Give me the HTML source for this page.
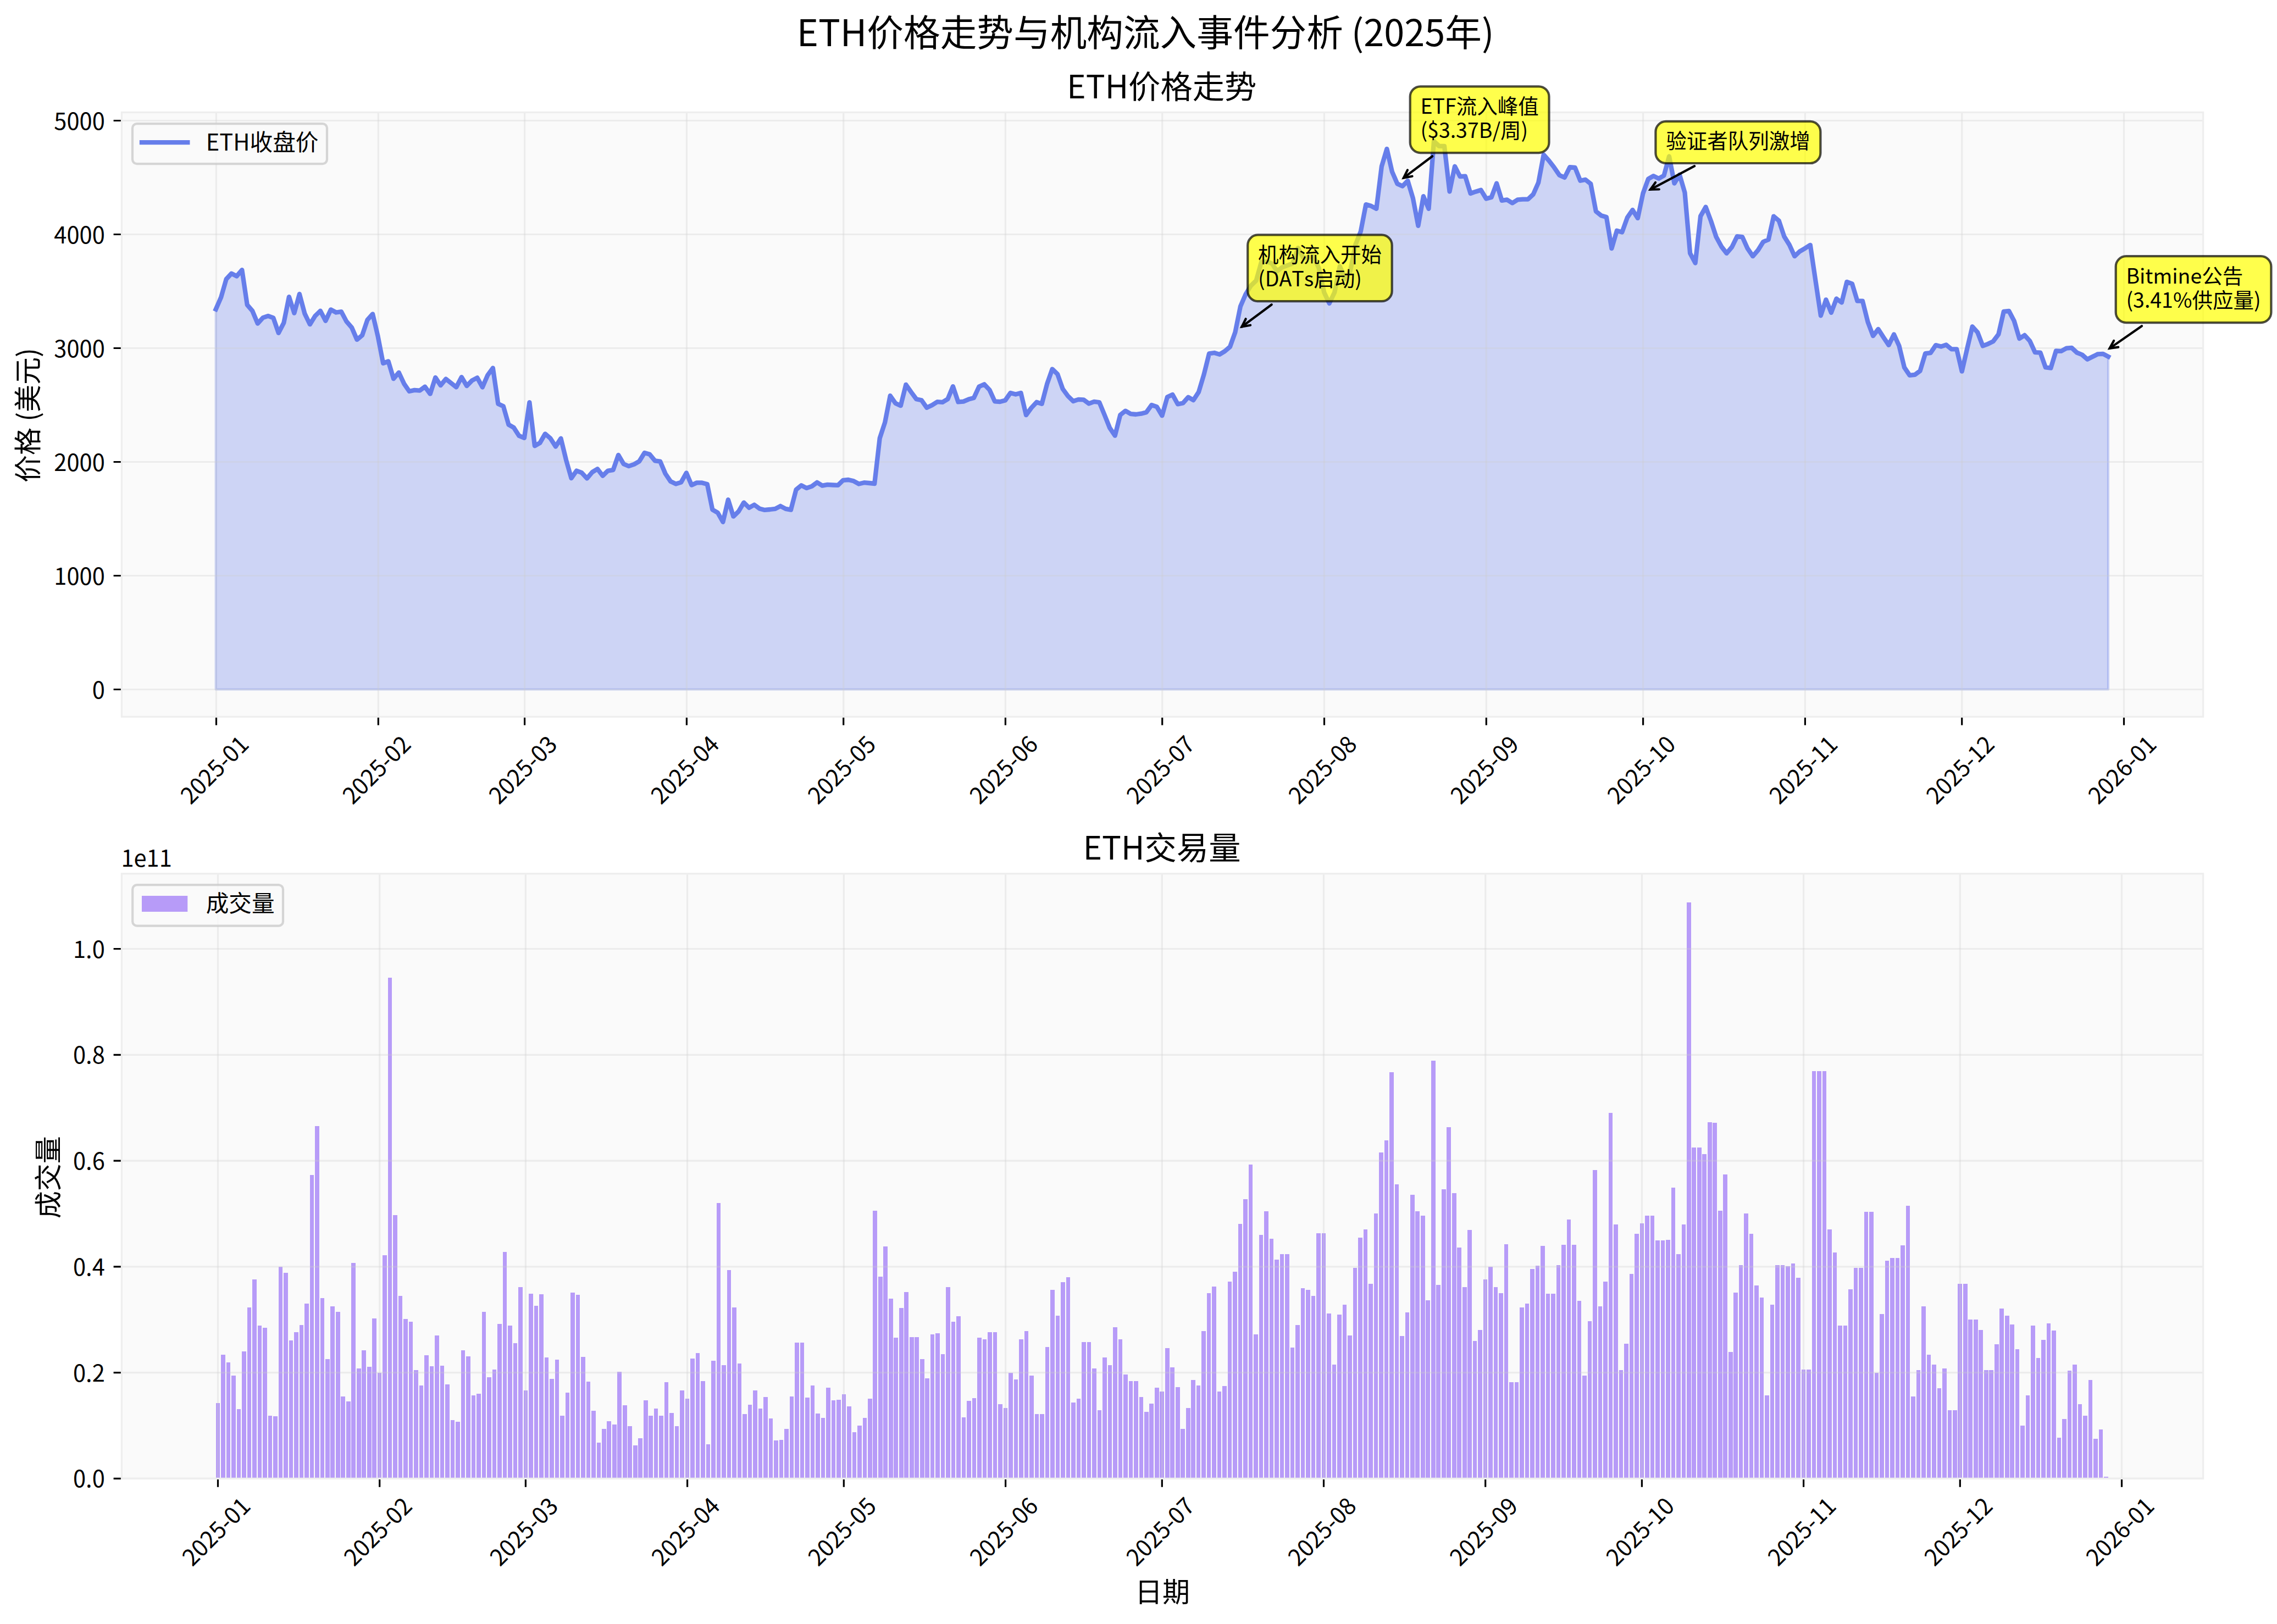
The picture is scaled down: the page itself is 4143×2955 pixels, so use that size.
<!DOCTYPE html>
<html lang="zh-CN"><head><meta charset="utf-8"><title>ETH价格走势与机构流入事件分析 (2025年)</title>
<style>html,body{margin:0;padding:0;background:#fff}body{width:4143px;height:2955px;overflow:hidden}svg{display:block}text{font-kerning:none}</style>
</head><body>
<svg width="4143" height="2955" viewBox="0 0 4143 2955" font-family='"Noto Sans CJK SC", "Liberation Sans", sans-serif' fill="#000">
<rect width="4143" height="2955" fill="#fff"/>
<rect x="221.4" y="204.4" width="3787.2" height="1099.8" fill="#fafafa"/>
<path d="M392.7,562.7 L402.2,540.8 L411.7,507.9 L421.2,497.7 L430.7,502.5 L440.3,491.1 L449.8,554.8 L459.3,565.8 L468.8,588.6 L478.3,578.2 L487.8,574.9 L497.3,578.4 L506.8,605.8 L516.4,587.3 L525.9,540.1 L535.4,569.7 L544.9,535.0 L554.4,570.6 L563.9,590.2 L573.4,574.9 L582.9,565.6 L592.4,583.8 L602.0,563.3 L611.5,568.5 L621.0,567.1 L630.5,585.1 L640.0,596.0 L649.5,618.0 L659.0,610.1 L668.5,582.0 L678.1,571.4 L687.6,612.0 L697.1,661.0 L706.6,657.5 L716.1,689.2 L725.6,677.8 L735.1,698.1 L744.6,712.0 L754.2,709.9 L763.7,710.7 L773.2,703.7 L782.7,716.7 L792.2,686.9 L801.7,701.2 L811.2,689.6 L820.7,697.0 L830.2,704.5 L839.8,686.1 L849.3,702.2 L858.8,692.3 L868.3,687.3 L877.8,704.5 L887.3,682.6 L896.8,669.7 L906.3,734.7 L915.9,739.3 L925.4,772.6 L934.9,778.2 L944.4,792.9 L953.9,796.8 L963.4,732.2 L972.9,811.3 L982.4,805.9 L991.9,789.4 L1001.5,797.7 L1011.0,812.6 L1020.5,797.7 L1030.0,836.8 L1039.5,870.1 L1049.0,856.6 L1058.5,860.2 L1068.0,870.5 L1077.6,859.1 L1087.1,853.3 L1096.6,865.8 L1106.1,856.6 L1115.6,855.2 L1125.1,827.9 L1134.6,844.2 L1144.1,848.2 L1153.7,844.8 L1163.2,839.3 L1172.7,823.9 L1182.2,826.8 L1191.7,838.4 L1201.2,839.7 L1210.7,862.0 L1220.2,876.1 L1229.7,880.5 L1239.3,877.6 L1248.8,860.4 L1258.3,882.7 L1267.8,878.4 L1277.3,878.4 L1286.8,880.9 L1296.3,927.4 L1305.8,932.8 L1315.4,949.8 L1324.9,909.2 L1334.4,939.7 L1343.9,930.5 L1353.4,914.4 L1362.9,923.9 L1372.4,918.5 L1381.9,925.4 L1391.4,927.9 L1401.0,927.0 L1410.5,925.8 L1420.0,920.8 L1429.5,925.8 L1439.0,927.6 L1448.5,891.0 L1458.0,883.1 L1467.5,888.1 L1477.1,884.8 L1486.6,877.8 L1496.1,883.6 L1505.6,881.9 L1515.1,882.5 L1524.6,882.9 L1534.1,873.8 L1543.6,873.0 L1553.2,875.3 L1562.7,880.5 L1572.2,878.2 L1581.7,879.0 L1591.2,880.0 L1600.7,797.4 L1610.2,768.5 L1619.7,720.0 L1629.2,733.7 L1638.8,738.2 L1648.3,699.9 L1657.8,713.4 L1667.3,726.2 L1676.8,728.3 L1686.3,741.8 L1695.8,737.2 L1705.3,731.2 L1714.9,731.8 L1724.4,726.2 L1733.9,703.1 L1743.4,731.4 L1752.9,730.6 L1762.4,726.6 L1771.9,724.0 L1781.4,703.5 L1790.9,699.3 L1800.5,709.5 L1810.0,730.4 L1819.5,731.0 L1829.0,728.5 L1838.5,714.9 L1848.0,717.5 L1857.5,714.9 L1867.0,755.2 L1876.6,742.0 L1886.1,731.8 L1895.6,734.9 L1905.1,698.7 L1914.6,671.6 L1924.1,680.7 L1933.6,707.6 L1943.1,720.6 L1952.7,730.0 L1962.2,726.9 L1971.7,727.3 L1981.2,734.3 L1990.7,730.8 L2000.2,732.0 L2009.7,755.0 L2019.2,778.6 L2028.7,792.7 L2038.3,755.0 L2047.8,747.6 L2057.3,753.1 L2066.8,754.0 L2076.3,752.7 L2085.8,750.2 L2095.3,737.0 L2104.8,740.1 L2114.4,756.3 L2123.9,722.5 L2133.4,718.0 L2142.9,735.3 L2152.4,733.5 L2161.9,722.7 L2171.4,728.1 L2180.9,713.6 L2190.4,681.9 L2200.0,643.4 L2209.5,642.0 L2219.0,644.9 L2228.5,639.1 L2238.0,631.0 L2247.5,604.3 L2257.0,557.3 L2266.5,535.4 L2276.1,519.7 L2285.6,510.5 L2295.1,476.6 L2304.6,475.8 L2314.1,479.3 L2323.6,493.4 L2333.1,486.3 L2342.6,482.8 L2352.2,479.3 L2361.7,451.1 L2371.2,468.7 L2380.7,468.7 L2390.2,466.9 L2399.7,488.0 L2409.2,531.9 L2418.7,552.1 L2428.2,531.9 L2437.8,484.5 L2447.3,507.2 L2456.8,493.4 L2466.3,445.3 L2475.8,421.3 L2485.3,372.1 L2494.8,374.8 L2504.3,379.9 L2513.9,302.7 L2523.4,271.0 L2532.9,312.4 L2542.4,334.4 L2551.9,338.7 L2561.4,329.0 L2570.9,360.7 L2580.4,410.8 L2589.9,357.2 L2599.5,379.9 L2609.0,257.0 L2618.5,265.9 L2628.0,265.9 L2637.5,348.5 L2647.0,302.7 L2656.5,321.1 L2666.0,320.7 L2675.6,352.0 L2685.1,348.7 L2694.6,345.8 L2704.1,361.5 L2713.6,359.0 L2723.1,333.6 L2732.6,364.8 L2742.1,363.4 L2751.7,369.4 L2761.2,363.4 L2770.7,362.7 L2780.2,362.5 L2789.7,353.6 L2799.2,332.1 L2808.7,281.6 L2818.2,292.2 L2827.7,304.6 L2837.3,318.7 L2846.8,323.0 L2856.3,304.2 L2865.8,305.0 L2875.3,328.8 L2884.8,326.9 L2894.3,334.4 L2903.8,384.5 L2913.4,392.3 L2922.9,395.0 L2932.4,452.2 L2941.9,419.7 L2951.4,422.4 L2960.9,395.9 L2970.4,382.0 L2979.9,396.9 L2989.4,352.0 L2999.0,325.7 L3008.5,320.1 L3018.0,324.9 L3027.5,319.5 L3037.0,284.5 L3046.5,333.6 L3056.0,317.8 L3065.5,350.3 L3075.1,460.9 L3084.6,478.5 L3094.1,393.4 L3103.6,376.6 L3113.1,402.1 L3122.6,431.1 L3132.1,448.6 L3141.6,460.9 L3151.2,449.5 L3160.7,430.2 L3170.2,431.1 L3179.7,452.2 L3189.2,466.2 L3198.7,455.3 L3208.2,440.0 L3217.7,436.0 L3227.2,393.6 L3236.8,401.7 L3246.3,430.2 L3255.8,445.5 L3265.3,466.2 L3274.8,457.3 L3284.3,451.8 L3293.8,445.8 L3303.3,510.1 L3312.9,574.3 L3322.4,545.3 L3331.9,568.9 L3341.4,543.5 L3350.9,550.5 L3360.4,512.8 L3369.9,516.3 L3379.4,547.6 L3388.9,547.6 L3398.5,585.7 L3408.0,611.1 L3417.5,598.9 L3427.0,613.8 L3436.5,627.9 L3446.0,608.5 L3455.5,629.4 L3465.0,668.7 L3474.6,682.8 L3484.1,681.9 L3493.6,674.9 L3503.1,643.2 L3512.6,642.2 L3522.1,628.1 L3531.6,630.6 L3541.1,627.5 L3550.7,635.4 L3560.2,635.4 L3569.7,675.7 L3579.2,634.5 L3588.7,594.2 L3598.2,604.7 L3607.7,629.4 L3617.2,625.8 L3626.7,621.1 L3636.3,608.2 L3645.8,566.8 L3655.3,566.0 L3664.8,584.2 L3674.3,616.1 L3683.8,609.9 L3693.3,620.5 L3702.8,641.2 L3712.4,641.6 L3721.9,668.5 L3731.4,669.7 L3740.9,638.5 L3750.4,638.9 L3759.9,633.7 L3769.4,632.9 L3778.9,641.6 L3788.4,645.5 L3798.0,653.8 L3807.5,649.0 L3817.0,644.3 L3826.5,643.9 L3836.0,649.0 L3836.0,1254.5 L392.7,1254.5 Z" fill="#667eea" fill-opacity="0.3" stroke="#667eea" stroke-opacity="0.3" stroke-width="4.2" stroke-linejoin="round"/>
<path d="M393.5,204.4 V1304.2 M688.3,204.4 V1304.2 M954.6,204.4 V1304.2 M1249.4,204.4 V1304.2 M1534.7,204.4 V1304.2 M1829.4,204.4 V1304.2 M2114.7,204.4 V1304.2 M2409.5,204.4 V1304.2 M2704.3,204.4 V1304.2 M2989.6,204.4 V1304.2 M3284.4,204.4 V1304.2 M3569.7,204.4 V1304.2 M3864.5,204.4 V1304.2" fill="none" stroke="#cccccc" stroke-opacity="0.3" stroke-width="3.2"/>
<path d="M221.4,1254.5 H4008.6 M221.4,1047.5 H4008.6 M221.4,840.5 H4008.6 M221.4,633.5 H4008.6 M221.4,426.5 H4008.6 M221.4,219.5 H4008.6" fill="none" stroke="#cccccc" stroke-opacity="0.3" stroke-width="3.2"/>
<path d="M392.7,562.7 L402.2,540.8 L411.7,507.9 L421.2,497.7 L430.7,502.5 L440.3,491.1 L449.8,554.8 L459.3,565.8 L468.8,588.6 L478.3,578.2 L487.8,574.9 L497.3,578.4 L506.8,605.8 L516.4,587.3 L525.9,540.1 L535.4,569.7 L544.9,535.0 L554.4,570.6 L563.9,590.2 L573.4,574.9 L582.9,565.6 L592.4,583.8 L602.0,563.3 L611.5,568.5 L621.0,567.1 L630.5,585.1 L640.0,596.0 L649.5,618.0 L659.0,610.1 L668.5,582.0 L678.1,571.4 L687.6,612.0 L697.1,661.0 L706.6,657.5 L716.1,689.2 L725.6,677.8 L735.1,698.1 L744.6,712.0 L754.2,709.9 L763.7,710.7 L773.2,703.7 L782.7,716.7 L792.2,686.9 L801.7,701.2 L811.2,689.6 L820.7,697.0 L830.2,704.5 L839.8,686.1 L849.3,702.2 L858.8,692.3 L868.3,687.3 L877.8,704.5 L887.3,682.6 L896.8,669.7 L906.3,734.7 L915.9,739.3 L925.4,772.6 L934.9,778.2 L944.4,792.9 L953.9,796.8 L963.4,732.2 L972.9,811.3 L982.4,805.9 L991.9,789.4 L1001.5,797.7 L1011.0,812.6 L1020.5,797.7 L1030.0,836.8 L1039.5,870.1 L1049.0,856.6 L1058.5,860.2 L1068.0,870.5 L1077.6,859.1 L1087.1,853.3 L1096.6,865.8 L1106.1,856.6 L1115.6,855.2 L1125.1,827.9 L1134.6,844.2 L1144.1,848.2 L1153.7,844.8 L1163.2,839.3 L1172.7,823.9 L1182.2,826.8 L1191.7,838.4 L1201.2,839.7 L1210.7,862.0 L1220.2,876.1 L1229.7,880.5 L1239.3,877.6 L1248.8,860.4 L1258.3,882.7 L1267.8,878.4 L1277.3,878.4 L1286.8,880.9 L1296.3,927.4 L1305.8,932.8 L1315.4,949.8 L1324.9,909.2 L1334.4,939.7 L1343.9,930.5 L1353.4,914.4 L1362.9,923.9 L1372.4,918.5 L1381.9,925.4 L1391.4,927.9 L1401.0,927.0 L1410.5,925.8 L1420.0,920.8 L1429.5,925.8 L1439.0,927.6 L1448.5,891.0 L1458.0,883.1 L1467.5,888.1 L1477.1,884.8 L1486.6,877.8 L1496.1,883.6 L1505.6,881.9 L1515.1,882.5 L1524.6,882.9 L1534.1,873.8 L1543.6,873.0 L1553.2,875.3 L1562.7,880.5 L1572.2,878.2 L1581.7,879.0 L1591.2,880.0 L1600.7,797.4 L1610.2,768.5 L1619.7,720.0 L1629.2,733.7 L1638.8,738.2 L1648.3,699.9 L1657.8,713.4 L1667.3,726.2 L1676.8,728.3 L1686.3,741.8 L1695.8,737.2 L1705.3,731.2 L1714.9,731.8 L1724.4,726.2 L1733.9,703.1 L1743.4,731.4 L1752.9,730.6 L1762.4,726.6 L1771.9,724.0 L1781.4,703.5 L1790.9,699.3 L1800.5,709.5 L1810.0,730.4 L1819.5,731.0 L1829.0,728.5 L1838.5,714.9 L1848.0,717.5 L1857.5,714.9 L1867.0,755.2 L1876.6,742.0 L1886.1,731.8 L1895.6,734.9 L1905.1,698.7 L1914.6,671.6 L1924.1,680.7 L1933.6,707.6 L1943.1,720.6 L1952.7,730.0 L1962.2,726.9 L1971.7,727.3 L1981.2,734.3 L1990.7,730.8 L2000.2,732.0 L2009.7,755.0 L2019.2,778.6 L2028.7,792.7 L2038.3,755.0 L2047.8,747.6 L2057.3,753.1 L2066.8,754.0 L2076.3,752.7 L2085.8,750.2 L2095.3,737.0 L2104.8,740.1 L2114.4,756.3 L2123.9,722.5 L2133.4,718.0 L2142.9,735.3 L2152.4,733.5 L2161.9,722.7 L2171.4,728.1 L2180.9,713.6 L2190.4,681.9 L2200.0,643.4 L2209.5,642.0 L2219.0,644.9 L2228.5,639.1 L2238.0,631.0 L2247.5,604.3 L2257.0,557.3 L2266.5,535.4 L2276.1,519.7 L2285.6,510.5 L2295.1,476.6 L2304.6,475.8 L2314.1,479.3 L2323.6,493.4 L2333.1,486.3 L2342.6,482.8 L2352.2,479.3 L2361.7,451.1 L2371.2,468.7 L2380.7,468.7 L2390.2,466.9 L2399.7,488.0 L2409.2,531.9 L2418.7,552.1 L2428.2,531.9 L2437.8,484.5 L2447.3,507.2 L2456.8,493.4 L2466.3,445.3 L2475.8,421.3 L2485.3,372.1 L2494.8,374.8 L2504.3,379.9 L2513.9,302.7 L2523.4,271.0 L2532.9,312.4 L2542.4,334.4 L2551.9,338.7 L2561.4,329.0 L2570.9,360.7 L2580.4,410.8 L2589.9,357.2 L2599.5,379.9 L2609.0,257.0 L2618.5,265.9 L2628.0,265.9 L2637.5,348.5 L2647.0,302.7 L2656.5,321.1 L2666.0,320.7 L2675.6,352.0 L2685.1,348.7 L2694.6,345.8 L2704.1,361.5 L2713.6,359.0 L2723.1,333.6 L2732.6,364.8 L2742.1,363.4 L2751.7,369.4 L2761.2,363.4 L2770.7,362.7 L2780.2,362.5 L2789.7,353.6 L2799.2,332.1 L2808.7,281.6 L2818.2,292.2 L2827.7,304.6 L2837.3,318.7 L2846.8,323.0 L2856.3,304.2 L2865.8,305.0 L2875.3,328.8 L2884.8,326.9 L2894.3,334.4 L2903.8,384.5 L2913.4,392.3 L2922.9,395.0 L2932.4,452.2 L2941.9,419.7 L2951.4,422.4 L2960.9,395.9 L2970.4,382.0 L2979.9,396.9 L2989.4,352.0 L2999.0,325.7 L3008.5,320.1 L3018.0,324.9 L3027.5,319.5 L3037.0,284.5 L3046.5,333.6 L3056.0,317.8 L3065.5,350.3 L3075.1,460.9 L3084.6,478.5 L3094.1,393.4 L3103.6,376.6 L3113.1,402.1 L3122.6,431.1 L3132.1,448.6 L3141.6,460.9 L3151.2,449.5 L3160.7,430.2 L3170.2,431.1 L3179.7,452.2 L3189.2,466.2 L3198.7,455.3 L3208.2,440.0 L3217.7,436.0 L3227.2,393.6 L3236.8,401.7 L3246.3,430.2 L3255.8,445.5 L3265.3,466.2 L3274.8,457.3 L3284.3,451.8 L3293.8,445.8 L3303.3,510.1 L3312.9,574.3 L3322.4,545.3 L3331.9,568.9 L3341.4,543.5 L3350.9,550.5 L3360.4,512.8 L3369.9,516.3 L3379.4,547.6 L3388.9,547.6 L3398.5,585.7 L3408.0,611.1 L3417.5,598.9 L3427.0,613.8 L3436.5,627.9 L3446.0,608.5 L3455.5,629.4 L3465.0,668.7 L3474.6,682.8 L3484.1,681.9 L3493.6,674.9 L3503.1,643.2 L3512.6,642.2 L3522.1,628.1 L3531.6,630.6 L3541.1,627.5 L3550.7,635.4 L3560.2,635.4 L3569.7,675.7 L3579.2,634.5 L3588.7,594.2 L3598.2,604.7 L3607.7,629.4 L3617.2,625.8 L3626.7,621.1 L3636.3,608.2 L3645.8,566.8 L3655.3,566.0 L3664.8,584.2 L3674.3,616.1 L3683.8,609.9 L3693.3,620.5 L3702.8,641.2 L3712.4,641.6 L3721.9,668.5 L3731.4,669.7 L3740.9,638.5 L3750.4,638.9 L3759.9,633.7 L3769.4,632.9 L3778.9,641.6 L3788.4,645.5 L3798.0,653.8 L3807.5,649.0 L3817.0,644.3 L3826.5,643.9 L3836.0,649.0" fill="none" stroke="#667eea" stroke-width="8.3" stroke-linejoin="round" stroke-linecap="square"/>
<path d="M393.5,1304.2 v15.4 M688.3,1304.2 v15.4 M954.6,1304.2 v15.4 M1249.4,1304.2 v15.4 M1534.7,1304.2 v15.4 M1829.4,1304.2 v15.4 M2114.7,1304.2 v15.4 M2409.5,1304.2 v15.4 M2704.3,1304.2 v15.4 M2989.6,1304.2 v15.4 M3284.4,1304.2 v15.4 M3569.7,1304.2 v15.4 M3864.5,1304.2 v15.4 M221.4,1254.5 h-14.8 M221.4,1047.5 h-14.8 M221.4,840.5 h-14.8 M221.4,633.5 h-14.8 M221.4,426.5 h-14.8 M221.4,219.5 h-14.8" fill="none" stroke="#000" stroke-width="3.2"/>
<rect x="221.4" y="204.4" width="3787.2" height="1099.8" fill="none" stroke="#eeeeee" stroke-width="3.2"/>
<g font-size="41.67">
<text x="190.8" y="1270.5" text-anchor="end">0</text>
<text x="190.8" y="1063.5" text-anchor="end">1000</text>
<text x="190.8" y="856.5" text-anchor="end">2000</text>
<text x="190.8" y="649.5" text-anchor="end">3000</text>
<text x="190.8" y="442.5" text-anchor="end">4000</text>
<text x="190.8" y="235.5" text-anchor="end">5000</text>
<text transform="translate(390.6,1401.0) rotate(-45)" text-anchor="middle" y="14.8">2025-01</text>
<text transform="translate(685.4,1401.0) rotate(-45)" text-anchor="middle" y="14.8">2025-02</text>
<text transform="translate(951.7,1401.0) rotate(-45)" text-anchor="middle" y="14.8">2025-03</text>
<text transform="translate(1246.5,1401.0) rotate(-45)" text-anchor="middle" y="14.8">2025-04</text>
<text transform="translate(1531.8,1401.0) rotate(-45)" text-anchor="middle" y="14.8">2025-05</text>
<text transform="translate(1826.5,1401.0) rotate(-45)" text-anchor="middle" y="14.8">2025-06</text>
<text transform="translate(2111.8,1401.0) rotate(-45)" text-anchor="middle" y="14.8">2025-07</text>
<text transform="translate(2406.6,1401.0) rotate(-45)" text-anchor="middle" y="14.8">2025-08</text>
<text transform="translate(2701.4,1401.0) rotate(-45)" text-anchor="middle" y="14.8">2025-09</text>
<text transform="translate(2986.7,1401.0) rotate(-45)" text-anchor="middle" y="14.8">2025-10</text>
<text transform="translate(3281.5,1401.0) rotate(-45)" text-anchor="middle" y="14.8">2025-11</text>
<text transform="translate(3566.8,1401.0) rotate(-45)" text-anchor="middle" y="14.8">2025-12</text>
<text transform="translate(3861.6,1401.0) rotate(-45)" text-anchor="middle" y="14.8">2026-01</text>
</g>
<rect x="221.4" y="1589.7" width="3787.2" height="1100.7" fill="#fafafa"/>
<path d="M393,2690.4V2553H400V2690.4zM402,2690.4V2465H410V2690.4zM412,2690.4V2479H419V2690.4zM421,2690.4V2503H429V2690.4zM431,2690.4V2564H438V2690.4zM440,2690.4V2459H448V2690.4zM450,2690.4V2379H457V2690.4zM459,2690.4V2328H467V2690.4zM469,2690.4V2412H476V2690.4zM478,2690.4V2416H486V2690.4zM488,2690.4V2576H495V2690.4zM497,2690.4V2577H505V2690.4zM507,2690.4V2305H514V2690.4zM516,2690.4V2316H524V2690.4zM526,2690.4V2439H533V2690.4zM535,2690.4V2424H543V2690.4zM545,2690.4V2411H552V2690.4zM554,2690.4V2372H562V2690.4zM564,2690.4V2138H571V2690.4zM573,2690.4V2049H581V2690.4zM583,2690.4V2362H590V2690.4zM592,2690.4V2473H600V2690.4zM601,2690.4V2377H609V2690.4zM611,2690.4V2387H619V2690.4zM620,2690.4V2541H628V2690.4zM630,2690.4V2550H638V2690.4zM639,2690.4V2298H647V2690.4zM649,2690.4V2490H657V2690.4zM658,2690.4V2457H666V2690.4zM668,2690.4V2487H676V2690.4zM677,2690.4V2399H685V2690.4zM687,2690.4V2498H694V2690.4zM696,2690.4V2284H704V2690.4zM706,2690.4V1779H713V2690.4zM715,2690.4V2211H723V2690.4zM725,2690.4V2358H732V2690.4zM734,2690.4V2400H742V2690.4zM744,2690.4V2405H751V2690.4zM753,2690.4V2493H761V2690.4zM763,2690.4V2521H770V2690.4zM772,2690.4V2466H780V2690.4zM782,2690.4V2486H789V2690.4zM791,2690.4V2430H799V2690.4zM801,2690.4V2485H808V2690.4zM810,2690.4V2519H818V2690.4zM820,2690.4V2584H827V2690.4zM829,2690.4V2587H837V2690.4zM839,2690.4V2457H846V2690.4zM848,2690.4V2468H856V2690.4zM858,2690.4V2539H865V2690.4zM867,2690.4V2536H875V2690.4zM877,2690.4V2387H884V2690.4zM886,2690.4V2506H894V2690.4zM896,2690.4V2492H903V2690.4zM905,2690.4V2409H913V2690.4zM915,2690.4V2278H922V2690.4zM924,2690.4V2412H932V2690.4zM934,2690.4V2444H941V2690.4zM943,2690.4V2342H951V2690.4zM953,2690.4V2530H960V2690.4zM962,2690.4V2354H970V2690.4zM972,2690.4V2376H979V2690.4zM981,2690.4V2355H989V2690.4zM991,2690.4V2470H998V2690.4zM1000,2690.4V2509H1008V2690.4zM1010,2690.4V2474H1017V2690.4zM1019,2690.4V2576H1027V2690.4zM1029,2690.4V2534H1036V2690.4zM1038,2690.4V2352H1046V2690.4zM1048,2690.4V2356H1055V2690.4zM1057,2690.4V2469H1065V2690.4zM1067,2690.4V2514H1074V2690.4zM1076,2690.4V2567H1084V2690.4zM1086,2690.4V2625H1093V2690.4zM1095,2690.4V2600H1103V2690.4zM1104,2690.4V2586H1112V2690.4zM1114,2690.4V2592H1122V2690.4zM1123,2690.4V2496H1131V2690.4zM1133,2690.4V2557H1141V2690.4zM1142,2690.4V2595H1150V2690.4zM1152,2690.4V2630H1160V2690.4zM1161,2690.4V2617H1169V2690.4zM1171,2690.4V2548H1179V2690.4zM1180,2690.4V2576H1188V2690.4zM1190,2690.4V2563H1197V2690.4zM1199,2690.4V2576H1207V2690.4zM1209,2690.4V2515H1216V2690.4zM1218,2690.4V2571H1226V2690.4zM1228,2690.4V2595H1235V2690.4zM1237,2690.4V2530H1245V2690.4zM1247,2690.4V2545H1254V2690.4zM1256,2690.4V2472H1264V2690.4zM1266,2690.4V2462H1273V2690.4zM1275,2690.4V2513H1283V2690.4zM1285,2690.4V2628H1292V2690.4zM1294,2690.4V2476H1302V2690.4zM1304,2690.4V2189H1311V2690.4zM1313,2690.4V2484H1321V2690.4zM1323,2690.4V2311H1330V2690.4zM1332,2690.4V2379H1340V2690.4zM1342,2690.4V2481H1349V2690.4zM1351,2690.4V2573H1359V2690.4zM1361,2690.4V2556H1368V2690.4zM1370,2690.4V2530H1378V2690.4zM1380,2690.4V2563H1387V2690.4zM1389,2690.4V2542H1397V2690.4zM1399,2690.4V2581H1406V2690.4zM1408,2690.4V2621H1416V2690.4zM1418,2690.4V2620H1425V2690.4zM1427,2690.4V2600H1435V2690.4zM1437,2690.4V2541H1444V2690.4zM1446,2690.4V2443H1454V2690.4zM1456,2690.4V2443H1463V2690.4zM1465,2690.4V2543H1473V2690.4zM1475,2690.4V2521H1482V2690.4zM1484,2690.4V2572H1492V2690.4zM1494,2690.4V2580H1501V2690.4zM1503,2690.4V2525H1511V2690.4zM1513,2690.4V2548H1520V2690.4zM1522,2690.4V2547H1530V2690.4zM1532,2690.4V2537H1539V2690.4zM1541,2690.4V2559H1549V2690.4zM1551,2690.4V2606H1558V2690.4zM1560,2690.4V2594H1568V2690.4zM1570,2690.4V2580H1577V2690.4zM1579,2690.4V2545H1587V2690.4zM1588,2690.4V2203H1596V2690.4zM1598,2690.4V2323H1606V2690.4zM1607,2690.4V2268H1615V2690.4zM1617,2690.4V2363H1625V2690.4zM1626,2690.4V2434H1634V2690.4zM1636,2690.4V2380H1644V2690.4zM1645,2690.4V2351H1653V2690.4zM1655,2690.4V2433H1663V2690.4zM1664,2690.4V2433H1672V2690.4zM1674,2690.4V2473H1682V2690.4zM1683,2690.4V2508H1691V2690.4zM1693,2690.4V2428H1700V2690.4zM1702,2690.4V2426H1710V2690.4zM1712,2690.4V2464H1719V2690.4zM1721,2690.4V2342H1729V2690.4zM1731,2690.4V2405H1738V2690.4zM1740,2690.4V2395H1748V2690.4zM1750,2690.4V2579H1757V2690.4zM1759,2690.4V2549H1767V2690.4zM1769,2690.4V2544H1776V2690.4zM1778,2690.4V2434H1786V2690.4zM1788,2690.4V2437H1795V2690.4zM1797,2690.4V2424H1805V2690.4zM1807,2690.4V2424H1814V2690.4zM1816,2690.4V2555H1824V2690.4zM1826,2690.4V2562H1833V2690.4zM1835,2690.4V2498H1843V2690.4zM1845,2690.4V2510H1852V2690.4zM1854,2690.4V2437H1862V2690.4zM1864,2690.4V2422H1871V2690.4zM1873,2690.4V2503H1881V2690.4zM1883,2690.4V2573H1890V2690.4zM1892,2690.4V2573H1900V2690.4zM1902,2690.4V2451H1909V2690.4zM1911,2690.4V2347H1919V2690.4zM1921,2690.4V2394H1928V2690.4zM1930,2690.4V2333H1938V2690.4zM1940,2690.4V2324H1947V2690.4zM1949,2690.4V2552H1957V2690.4zM1959,2690.4V2545H1966V2690.4zM1968,2690.4V2442H1976V2690.4zM1978,2690.4V2442H1985V2690.4zM1987,2690.4V2490H1995V2690.4zM1997,2690.4V2566H2004V2690.4zM2006,2690.4V2470H2014V2690.4zM2016,2690.4V2484H2023V2690.4zM2025,2690.4V2415H2033V2690.4zM2035,2690.4V2437H2042V2690.4zM2044,2690.4V2501H2052V2690.4zM2054,2690.4V2513H2061V2690.4zM2063,2690.4V2513H2071V2690.4zM2073,2690.4V2542H2080V2690.4zM2082,2690.4V2569H2090V2690.4zM2091,2690.4V2554H2099V2690.4zM2101,2690.4V2525H2109V2690.4zM2110,2690.4V2532H2118V2690.4zM2120,2690.4V2453H2128V2690.4zM2129,2690.4V2488H2137V2690.4zM2139,2690.4V2524H2147V2690.4zM2148,2690.4V2600H2156V2690.4zM2158,2690.4V2562H2166V2690.4zM2167,2690.4V2511H2175V2690.4zM2177,2690.4V2521H2184V2690.4zM2186,2690.4V2422H2194V2690.4zM2196,2690.4V2353H2203V2690.4zM2205,2690.4V2341H2213V2690.4zM2215,2690.4V2532H2222V2690.4zM2224,2690.4V2522H2232V2690.4zM2234,2690.4V2332H2241V2690.4zM2243,2690.4V2314H2251V2690.4zM2253,2690.4V2227H2260V2690.4zM2262,2690.4V2182H2270V2690.4zM2272,2690.4V2119H2279V2690.4zM2281,2690.4V2428H2289V2690.4zM2291,2690.4V2247H2298V2690.4zM2300,2690.4V2204H2308V2690.4zM2310,2690.4V2254H2317V2690.4zM2319,2690.4V2292H2327V2690.4zM2329,2690.4V2282H2336V2690.4zM2338,2690.4V2282H2346V2690.4zM2348,2690.4V2452H2355V2690.4zM2357,2690.4V2411H2365V2690.4zM2367,2690.4V2344H2374V2690.4zM2376,2690.4V2347H2384V2690.4zM2386,2690.4V2358H2393V2690.4zM2395,2690.4V2244H2403V2690.4zM2405,2690.4V2244H2412V2690.4zM2414,2690.4V2390H2422V2690.4zM2424,2690.4V2483H2431V2690.4zM2433,2690.4V2392H2441V2690.4zM2443,2690.4V2374H2450V2690.4zM2452,2690.4V2430H2460V2690.4zM2462,2690.4V2307H2469V2690.4zM2471,2690.4V2252H2479V2690.4zM2481,2690.4V2237H2488V2690.4zM2490,2690.4V2336H2498V2690.4zM2500,2690.4V2208H2507V2690.4zM2509,2690.4V2097H2517V2690.4zM2519,2690.4V2075H2526V2690.4zM2528,2690.4V1951H2536V2690.4zM2538,2690.4V2155H2545V2690.4zM2547,2690.4V2431H2555V2690.4zM2557,2690.4V2388H2564V2690.4zM2566,2690.4V2174H2574V2690.4zM2575,2690.4V2204H2583V2690.4zM2585,2690.4V2212H2593V2690.4zM2594,2690.4V2366H2602V2690.4zM2604,2690.4V1930H2612V2690.4zM2613,2690.4V2338H2621V2690.4zM2623,2690.4V2164H2631V2690.4zM2632,2690.4V2051H2640V2690.4zM2642,2690.4V2171H2650V2690.4zM2651,2690.4V2270H2659V2690.4zM2661,2690.4V2342H2669V2690.4zM2670,2690.4V2238H2678V2690.4zM2680,2690.4V2440H2687V2690.4zM2689,2690.4V2420H2697V2690.4zM2699,2690.4V2328H2706V2690.4zM2708,2690.4V2305H2716V2690.4zM2718,2690.4V2342H2725V2690.4zM2727,2690.4V2353H2735V2690.4zM2737,2690.4V2264H2744V2690.4zM2746,2690.4V2515H2754V2690.4zM2756,2690.4V2515H2763V2690.4zM2765,2690.4V2379H2773V2690.4zM2775,2690.4V2372H2782V2690.4zM2784,2690.4V2309H2792V2690.4zM2794,2690.4V2303H2801V2690.4zM2803,2690.4V2267H2811V2690.4zM2813,2690.4V2354H2820V2690.4zM2822,2690.4V2354H2830V2690.4zM2832,2690.4V2302H2839V2690.4zM2841,2690.4V2265H2849V2690.4zM2851,2690.4V2219H2858V2690.4zM2860,2690.4V2265H2868V2690.4zM2870,2690.4V2367H2877V2690.4zM2879,2690.4V2503H2887V2690.4zM2889,2690.4V2404H2896V2690.4zM2898,2690.4V2129H2906V2690.4zM2908,2690.4V2377H2915V2690.4zM2917,2690.4V2332H2925V2690.4zM2927,2690.4V2025H2934V2690.4zM2936,2690.4V2228H2944V2690.4zM2946,2690.4V2493H2953V2690.4zM2955,2690.4V2445H2963V2690.4zM2965,2690.4V2318H2972V2690.4zM2974,2690.4V2245H2982V2690.4zM2984,2690.4V2226H2991V2690.4zM2993,2690.4V2212H3001V2690.4zM3003,2690.4V2212H3010V2690.4zM3012,2690.4V2257H3020V2690.4zM3022,2690.4V2257H3029V2690.4zM3031,2690.4V2256H3039V2690.4zM3041,2690.4V2161H3048V2690.4zM3050,2690.4V2282H3058V2690.4zM3060,2690.4V2228H3067V2690.4zM3069,2690.4V1642H3077V2690.4zM3078,2690.4V2088H3086V2690.4zM3088,2690.4V2088H3096V2690.4zM3097,2690.4V2100H3105V2690.4zM3107,2690.4V2042H3115V2690.4zM3116,2690.4V2043H3124V2690.4zM3126,2690.4V2203H3134V2690.4zM3135,2690.4V2137H3143V2690.4zM3145,2690.4V2460H3153V2690.4zM3154,2690.4V2352H3162V2690.4zM3164,2690.4V2302H3171V2690.4zM3173,2690.4V2208H3181V2690.4zM3183,2690.4V2245H3190V2690.4zM3192,2690.4V2339H3200V2690.4zM3202,2690.4V2361H3209V2690.4zM3211,2690.4V2539H3219V2690.4zM3221,2690.4V2374H3228V2690.4zM3230,2690.4V2302H3238V2690.4zM3240,2690.4V2302H3247V2690.4zM3249,2690.4V2304H3257V2690.4zM3259,2690.4V2299H3266V2690.4zM3268,2690.4V2325H3276V2690.4zM3278,2690.4V2492H3285V2690.4zM3287,2690.4V2492H3295V2690.4zM3297,2690.4V1949H3304V2690.4zM3306,2690.4V1949H3314V2690.4zM3316,2690.4V1949H3323V2690.4zM3325,2690.4V2237H3333V2690.4zM3335,2690.4V2279H3342V2690.4zM3344,2690.4V2412H3352V2690.4zM3354,2690.4V2412H3361V2690.4zM3363,2690.4V2346H3371V2690.4zM3373,2690.4V2307H3380V2690.4zM3382,2690.4V2307H3390V2690.4zM3392,2690.4V2205H3399V2690.4zM3401,2690.4V2205H3409V2690.4zM3411,2690.4V2498H3418V2690.4zM3420,2690.4V2391H3428V2690.4zM3430,2690.4V2294H3437V2690.4zM3439,2690.4V2289H3447V2690.4zM3449,2690.4V2289H3456V2690.4zM3458,2690.4V2266H3466V2690.4zM3468,2690.4V2194H3475V2690.4zM3477,2690.4V2541H3485V2690.4zM3487,2690.4V2493H3494V2690.4zM3496,2690.4V2377H3504V2690.4zM3506,2690.4V2465H3513V2690.4zM3515,2690.4V2483H3523V2690.4zM3525,2690.4V2526H3532V2690.4zM3534,2690.4V2490H3542V2690.4zM3544,2690.4V2566H3551V2690.4zM3553,2690.4V2566H3561V2690.4zM3562,2690.4V2336H3570V2690.4zM3572,2690.4V2336H3580V2690.4zM3581,2690.4V2401H3589V2690.4zM3591,2690.4V2401H3599V2690.4zM3600,2690.4V2420H3608V2690.4zM3610,2690.4V2493H3618V2690.4zM3619,2690.4V2493H3627V2690.4zM3629,2690.4V2446H3637V2690.4zM3638,2690.4V2381H3646V2690.4zM3648,2690.4V2394H3656V2690.4zM3657,2690.4V2410H3665V2690.4zM3667,2690.4V2455H3674V2690.4zM3676,2690.4V2594H3684V2690.4zM3686,2690.4V2539H3693V2690.4zM3695,2690.4V2412H3703V2690.4zM3705,2690.4V2471H3712V2690.4zM3714,2690.4V2438H3722V2690.4zM3724,2690.4V2408H3731V2690.4zM3733,2690.4V2421H3741V2690.4zM3743,2690.4V2616H3750V2690.4zM3752,2690.4V2582H3760V2690.4zM3762,2690.4V2494H3769V2690.4zM3771,2690.4V2483H3779V2690.4zM3781,2690.4V2555H3788V2690.4zM3790,2690.4V2576H3798V2690.4zM3800,2690.4V2511H3807V2690.4zM3809,2690.4V2618H3817V2690.4zM3819,2690.4V2601H3826V2690.4zM3828,2690.4V2687H3836V2690.4z" fill="#8b5cf6" fill-opacity="0.6"/>
<path d="M396.5,1589.7 V2690.4 M690.7,1589.7 V2690.4 M956.4,1589.7 V2690.4 M1250.6,1589.7 V2690.4 M1535.3,1589.7 V2690.4 M1829.6,1589.7 V2690.4 M2114.3,1589.7 V2690.4 M2408.5,1589.7 V2690.4 M2702.7,1589.7 V2690.4 M2987.4,1589.7 V2690.4 M3281.6,1589.7 V2690.4 M3566.3,1589.7 V2690.4 M3860.5,1589.7 V2690.4" fill="none" stroke="#cccccc" stroke-opacity="0.3" stroke-width="3.2"/>
<path d="M221.4,2690.4 H4008.6 M221.4,2497.6 H4008.6 M221.4,2304.8 H4008.6 M221.4,2112.1 H4008.6 M221.4,1919.3 H4008.6 M221.4,1726.5 H4008.6" fill="none" stroke="#cccccc" stroke-opacity="0.3" stroke-width="3.2"/>
<path d="M396.5,2690.4 v15.4 M690.7,2690.4 v15.4 M956.4,2690.4 v15.4 M1250.6,2690.4 v15.4 M1535.3,2690.4 v15.4 M1829.6,2690.4 v15.4 M2114.3,2690.4 v15.4 M2408.5,2690.4 v15.4 M2702.7,2690.4 v15.4 M2987.4,2690.4 v15.4 M3281.6,2690.4 v15.4 M3566.3,2690.4 v15.4 M3860.5,2690.4 v15.4 M221.4,2690.4 h-14.8 M221.4,2497.6 h-14.8 M221.4,2304.8 h-14.8 M221.4,2112.1 h-14.8 M221.4,1919.3 h-14.8 M221.4,1726.5 h-14.8" fill="none" stroke="#000" stroke-width="3.2"/>
<rect x="221.4" y="1589.7" width="3787.2" height="1100.7" fill="none" stroke="#eeeeee" stroke-width="3.2"/>
<g font-size="41.67">
<text x="190.8" y="2706.4" text-anchor="end">0.0</text>
<text x="190.8" y="2513.6" text-anchor="end">0.2</text>
<text x="190.8" y="2320.8" text-anchor="end">0.4</text>
<text x="190.8" y="2128.1" text-anchor="end">0.6</text>
<text x="190.8" y="1935.3" text-anchor="end">0.8</text>
<text x="190.8" y="1742.5" text-anchor="end">1.0</text>
<text transform="translate(393.6,2787.2) rotate(-45)" text-anchor="middle" y="14.8">2025-01</text>
<text transform="translate(687.8,2787.2) rotate(-45)" text-anchor="middle" y="14.8">2025-02</text>
<text transform="translate(953.5,2787.2) rotate(-45)" text-anchor="middle" y="14.8">2025-03</text>
<text transform="translate(1247.7,2787.2) rotate(-45)" text-anchor="middle" y="14.8">2025-04</text>
<text transform="translate(1532.4,2787.2) rotate(-45)" text-anchor="middle" y="14.8">2025-05</text>
<text transform="translate(1826.7,2787.2) rotate(-45)" text-anchor="middle" y="14.8">2025-06</text>
<text transform="translate(2111.4,2787.2) rotate(-45)" text-anchor="middle" y="14.8">2025-07</text>
<text transform="translate(2405.6,2787.2) rotate(-45)" text-anchor="middle" y="14.8">2025-08</text>
<text transform="translate(2699.8,2787.2) rotate(-45)" text-anchor="middle" y="14.8">2025-09</text>
<text transform="translate(2984.5,2787.2) rotate(-45)" text-anchor="middle" y="14.8">2025-10</text>
<text transform="translate(3278.7,2787.2) rotate(-45)" text-anchor="middle" y="14.8">2025-11</text>
<text transform="translate(3563.4,2787.2) rotate(-45)" text-anchor="middle" y="14.8">2025-12</text>
<text transform="translate(3857.6,2787.2) rotate(-45)" text-anchor="middle" y="14.8">2026-01</text>
<text x="220.4" y="1577">1e11</text>
</g>
<text x="2084.1" y="83.8" font-size="66.67" text-anchor="middle">ETH价格走势与机构流入事件分析 (2025年)</text>
<text x="2113.9" y="178.8" font-size="58.33" text-anchor="middle">ETH价格走势</text>
<text x="2114.1" y="1564.4" font-size="58.33" text-anchor="middle">ETH交易量</text>
<text x="2115.0" y="2915" font-size="50" text-anchor="middle">日期</text>
<text transform="translate(68.7,755.5) rotate(-90)" font-size="50" text-anchor="middle">价格 (美元)</text>
<text transform="translate(105.5,2142.2) rotate(-90)" font-size="50" text-anchor="middle">成交量</text>
<rect x="241" y="225.1" width="354" height="73" rx="8" fill="#fafafa" fill-opacity="0.8" stroke="#ccc" stroke-opacity="0.8" stroke-width="4.2"/>
<path d="M258,259.2 H341.3" stroke="#667eea" stroke-width="8.3" stroke-linecap="square"/>
<text x="374.7" y="274.4" font-size="41.67">ETH收盘价</text>
<rect x="241.2" y="1610.2" width="273.8" height="74.5" rx="8" fill="#fafafa" fill-opacity="0.8" stroke="#ccc" stroke-opacity="0.8" stroke-width="4.2"/>
<rect x="258" y="1630" width="83.3" height="29" fill="#8b5cf6" fill-opacity="0.6"/>
<text x="374.7" y="1659" font-size="41.67">成交量</text>
<path d="M2313.7,554.2 L2259.5,594.5" fill="none" stroke="#000" stroke-width="4.2" stroke-linecap="round"/><path d="M2275.1,591.7 L2259.5,594.5 L2266.7,580.3" fill="none" stroke="#000" stroke-width="4.2" stroke-linecap="round" stroke-linejoin="miter" stroke-miterlimit="10"/>
<rect x="2270.2" y="427.4" width="262.5" height="120.8" rx="18.75" fill="#ffff00" fill-opacity="0.7" stroke="#000" stroke-opacity="0.7" stroke-width="4.2"/>
<text x="2289.0" y="476.7" font-size="37.5">机构流入开始</text>
<text x="2289.0" y="521.4" font-size="37.5">(DATs启动)</text>
<path d="M2606.2,284.3 L2553.9,323.6" fill="none" stroke="#000" stroke-width="4.2" stroke-linecap="round"/><path d="M2569.5,320.7 L2553.9,323.6 L2561.0,309.4" fill="none" stroke="#000" stroke-width="4.2" stroke-linecap="round" stroke-linejoin="miter" stroke-miterlimit="10"/>
<rect x="2565.7" y="157.3" width="252.8" height="120.8" rx="18.75" fill="#ffff00" fill-opacity="0.7" stroke="#000" stroke-opacity="0.7" stroke-width="4.2"/>
<text x="2584.4" y="206.6" font-size="37.5">ETF流入峰值</text>
<text x="2584.4" y="251.3" font-size="37.5">($3.37B/周)</text>
<path d="M3083.1,302.2 L3002.9,344.9" fill="none" stroke="#000" stroke-width="4.2" stroke-linecap="round"/><path d="M3018.8,344.5 L3002.9,344.9 L3012.1,332.0" fill="none" stroke="#000" stroke-width="4.2" stroke-linecap="round" stroke-linejoin="miter" stroke-miterlimit="10"/>
<rect x="3012.4" y="220.9" width="300.0" height="76.1" rx="18.75" fill="#ffff00" fill-opacity="0.7" stroke="#000" stroke-opacity="0.7" stroke-width="4.2"/>
<text x="3031.2" y="270.2" font-size="37.5">验证者队列激增</text>
<path d="M3897.0,593.2 L3838.5,633.9" fill="none" stroke="#000" stroke-width="4.2" stroke-linecap="round"/><path d="M3854.2,631.6 L3838.5,633.9 L3846.1,619.9" fill="none" stroke="#000" stroke-width="4.2" stroke-linecap="round" stroke-linejoin="miter" stroke-miterlimit="10"/>
<rect x="3849.7" y="466.2" width="282.7" height="120.9" rx="18.75" fill="#ffff00" fill-opacity="0.7" stroke="#000" stroke-opacity="0.7" stroke-width="4.2"/>
<text x="3868.4" y="515.5" font-size="37.5">Bitmine公告</text>
<text x="3868.4" y="560.2" font-size="37.5">(3.41%供应量)</text>
</svg>
</body></html>
